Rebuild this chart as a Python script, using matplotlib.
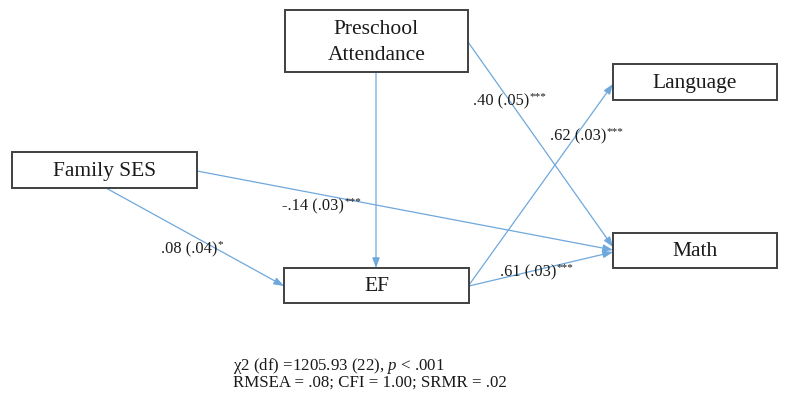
import matplotlib
matplotlib.use("Agg")
import matplotlib.pyplot as plt
from matplotlib.patches import Rectangle

plt.rcParams['font.family'] = ['Liberation Serif', 'DejaVu Serif']
plt.rcParams['mathtext.fontset'] = 'custom'
plt.rcParams['mathtext.rm'] = 'Liberation Serif'
plt.rcParams['mathtext.it'] = 'Liberation Serif:italic'

# Nodes: name -> (left, top, right, bottom) in pixel layout
node_names = ["Preschool\nAttendance", "Language", "Family SES", "EF", "Math"]
node_boxes = [(285, 10, 468, 72), (613, 64, 777, 100), (12, 152, 197, 188),
              (284, 268, 469, 303), (613, 233, 777, 268)]

# Paths: (start xy, end xy)
path_coords = [((376, 72), (376, 268)),
               ((468, 42), (613, 247)),
               ((106, 188), (284, 286)),
               ((197, 171), (613, 250)),
               ((469, 285), (613, 84)),
               ((469, 286), (613, 252))]
path_labels = [".40 (.05)", ".62 (.03)", "-.14 (.03)", ".08 (.04)", ".61 (.03)"]
path_stars = ["***", "***", "***", "*", "***"]
label_pos = [(473, 101), (550, 136), (282, 206), (161, 249), (500, 272)]

footer = [r"χ2 (df) =1205.93 (22), $\mathit{p}$ < .001",
          "RMSEA = .08; CFI = 1.00; SRMR = .02"]

fig = plt.figure(figsize=(7.9, 3.94), dpi=100)
ax = fig.add_axes([0, 0, 1, 1])
ax.set_xlim(0, 790)
ax.set_ylim(394, 0)
ax.axis('off')

blue = '#6FA8DC'
for (s, e) in path_coords:
    ax.annotate('', xy=e, xytext=s,
                arrowprops=dict(arrowstyle='-|>,head_length=0.6,head_width=0.22',
                                color=blue, lw=0.9, shrinkA=0, shrinkB=0))

for name, (l, t, r, b) in zip(node_names, node_boxes):
    ax.add_patch(Rectangle((l, t), r - l, b - t, facecolor='white',
                           edgecolor='#404040', lw=1.4, zorder=3))
    ax.text((l + r) / 2, (t + b) / 2 + 1, name, ha='center', va='center',
            fontsize=15.5, color='#1a1a1a', zorder=4, linespacing=1.5)

fig.canvas.draw()
renderer = fig.canvas.get_renderer()
for lab, st, (x, y) in zip(path_labels, path_stars, label_pos):
    t = ax.text(x, y, lab, ha='left', va='center',
                fontsize=11.8, color='#1a1a1a', zorder=5)
    bb = t.get_window_extent(renderer=renderer)
    ax.annotate(st, xy=(bb.x1, bb.y1), xycoords='figure pixels',
                xytext=(0.3, 0.3), textcoords='offset points',
                ha='left', va='top', fontsize=8, color='#1a1a1a', zorder=5)

ax.text(233, 366, footer[0], ha='left', va='center', fontsize=12.2, color='#1a1a1a')
ax.text(233, 383, footer[1], ha='left', va='center', fontsize=12.2, color='#1a1a1a')

fig.savefig('out.png', dpi=100)
